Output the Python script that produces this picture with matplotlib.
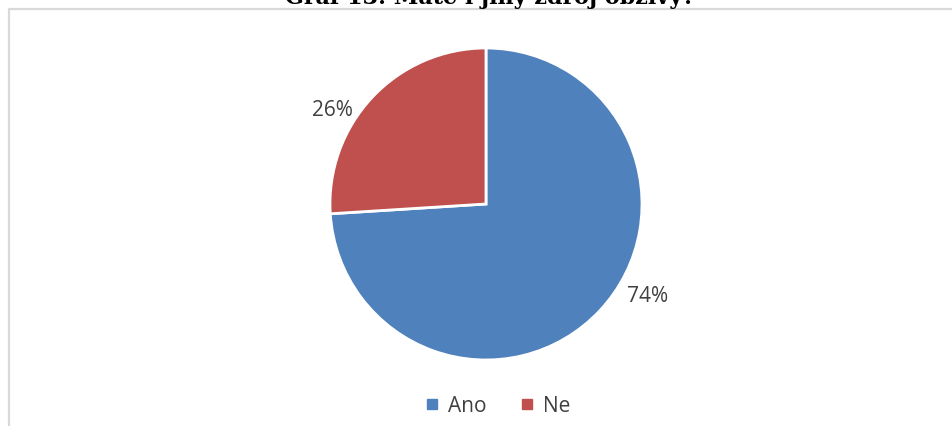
import matplotlib.pyplot as plt
from matplotlib.lines import Line2D

# Data
categories = ["Ano", "Ne"]
shares = [74, 26]
colors = ["#4F81BD", "#C0504D"]
title = "Graf 13: Máte i jiný zdroj obživy?"

W, H = 952, 427
fig = plt.figure(figsize=(W / 100, H / 100), dpi=100)
fig.patch.set_facecolor("white")

# Axes in pixel units (y upwards)
ax = fig.add_axes([0, 0, 1, 1])
ax.set_xlim(0, W)
ax.set_ylim(0, H)
ax.set_aspect("equal")
ax.axis("off")

# chart frame (top + left edge)
ax.add_line(Line2D([9, 9, W], [0, H - 10, H - 10], color="#D9D9D9", lw=1.6))

cx, cy, r = 486, H - 205, 156
wedges, texts, autotexts = ax.pie(
    shares, colors=colors, startangle=90, counterclock=False,
    center=(cx, cy), radius=r, explode=[0, 0.025],
    autopct="%d%%", pctdistance=1.18,
    wedgeprops=dict(edgecolor="white", linewidth=2),
    textprops=dict(color="#404040", fontsize=15, family="Open Sans"),
)
ax.set_xlim(0, W)
ax.set_ylim(0, H)

# data labels placed like the outside-end labels
autotexts[0].set_position((648, H - 296))
autotexts[1].set_position((332, H - 110))
for t in autotexts:
    t.set_ha("center")
    t.set_va("center")

# legend
handles = [Line2D([], [], marker="s", ls="", color=c, markersize=7) for c in colors]
fig.legend(handles, categories, loc="center", bbox_to_anchor=(496 / W, 1 - 407 / H),
           ncol=2, frameon=False, handletextpad=0.3, columnspacing=1.4,
           handlelength=1.0, prop=dict(family="Open Sans", size=15),
           labelcolor="#404040")

# title, partly cut off at the top edge
fig.text(490 / W, 1 - 4 / H, title, ha="center", va="baseline",
         fontsize=16, fontweight="bold", family="DejaVu Serif", color="black")

fig.savefig("out.png", dpi=100, facecolor="white")
